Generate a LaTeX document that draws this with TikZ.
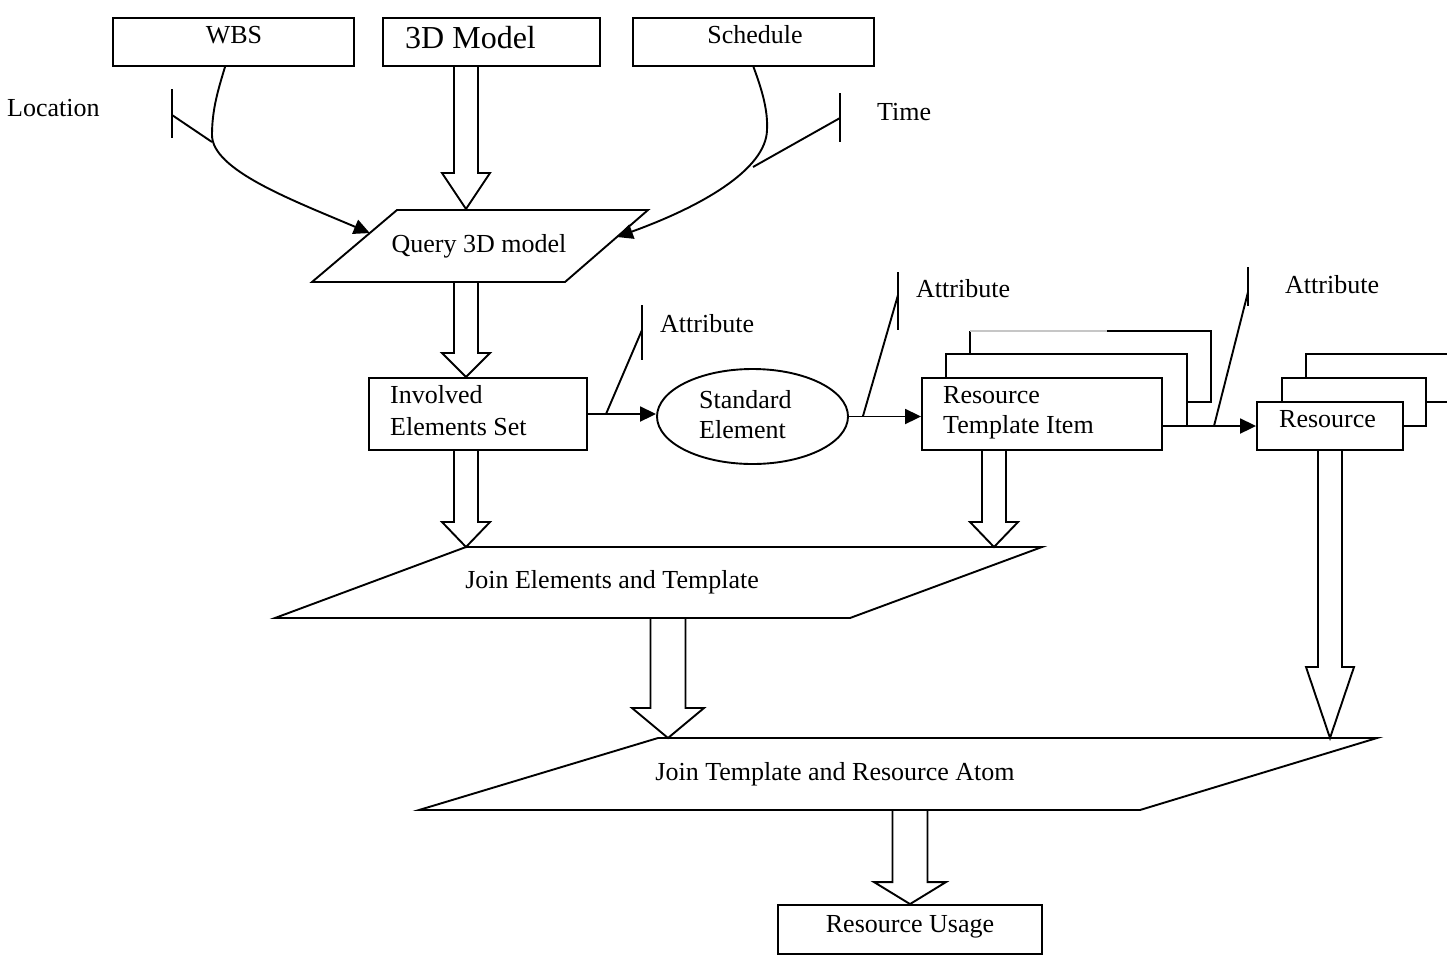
\documentclass[tikz,border=0pt]{standalone}
\usepackage{fontspec}
\setmainfont{Liberation Serif}
\usetikzlibrary{arrows.meta,shapes.geometric,calc}
\newcommand\fs{\fontsize{26}{30}\selectfont}
% #1 start, #2 tip, #3 shaft half width, #4 head half width, #5 head length
\newcommand\blockar[5]{%
  \draw[blk] let \p1=#1, \p2=#2 in
    ({\x2-#3pt},\y1) -- ({\x2-#3pt},{\y2+#5pt}) -- ({\x2-#4pt},{\y2+#5pt}) -- (\x2,\y2)
    -- ({\x2+#4pt},{\y2+#5pt}) -- ({\x2+#3pt},{\y2+#5pt}) -- ({\x2+#3pt},\y1);}
\begin{document}
\begin{tikzpicture}[x=1pt,y=-1pt,
  lw/.style={line width=1.9pt},
  box/.style={draw,lw,rectangle,inner sep=0pt},
  txt/.style={inner sep=0pt,anchor=base west,font=\fs},
  ctxt/.style={inner sep=0pt,anchor=base,font=\fs},
  thinar/.style={lw,-{Triangle[length=16pt,width=15pt]}},
  blk/.style={lw,line join=miter}]
\useasboundingbox (0,0) rectangle (1447,956);

% ---- boxes
\node[box,minimum width=241pt,minimum height=48pt] (wbs) at (233.5,42) {};
\node[box,minimum width=217pt,minimum height=48pt] (model) at (491.5,42) {};
\node[box,minimum width=241pt,minimum height=48pt] (sched) at (753.5,42) {};
\node[box,minimum width=218pt,minimum height=72pt] (inv) at (478,414) {};
\node[draw,lw,ellipse,inner sep=0pt,minimum width=191pt,minimum height=95pt] (std) at (752.5,416.5) {};
\node[box,minimum width=240pt,minimum height=72pt] (rti) at (1042,414) {};
\node[box,minimum width=146pt,minimum height=48pt] (res) at (1330,426) {};
\node[box,minimum width=264pt,minimum height=49pt] (usage) at (910,929.5) {};

% ---- stacked back boxes
\draw[lw] (946,378) -- (946,354) -- (1187,354) -- (1187,426);
\draw[lw] (970,354) -- (970,331);
\draw[lw,gray!45] (970,331) -- (1107,331);
\draw[lw] (1107,331) -- (1211,331) -- (1211,402) -- (1187,402);
\draw[lw] (1282,402) -- (1282,378) -- (1426,378) -- (1426,426) -- (1403,426);
\draw[lw] (1306,378) -- (1306,354) -- (1447,354);
\draw[lw] (1426,402) -- (1447,402);

% ---- parallelograms
\coordinate (q1) at (397,210); \coordinate (q2) at (648,210);
\coordinate (q3) at (565,282); \coordinate (q4) at (312,282);
\draw[lw] (q1) -- (q2) -- (q3) -- (q4) -- cycle;
\coordinate (j1) at (466,547); \coordinate (j2) at (1042,547);
\coordinate (j3) at (850,618); \coordinate (j4) at (275,618);
\draw[lw] (j1) -- (j2) -- (j3) -- (j4) -- cycle;
\coordinate (k1) at (658,738); \coordinate (k2) at (1377,738);
\coordinate (k3) at (1140,810); \coordinate (k4) at (419,810);
\draw[lw] (k1) -- (k2) -- (k3) -- (k4) -- cycle;

% ---- texts
\node[ctxt] (wbst) at (234,43) {WBS};
\node[txt,font=\fontsize{32}{36}\selectfont] (modelt) at (405,48) {3D Model};
\node[ctxt] (schedt) at (755,43) {Schedule};
\node[txt] (loct) at (7,116) {Location};
\node[txt] (timet) at (877,120) {Time};
\node[ctxt] (qt) at (479,252) {Query 3D model};
\node[txt] (invt1) at (390,403) {Involved};
\node[txt] (invt2) at (390,435) {Elements Set};
\node[txt] (att1) at (660,332) {Attribute};
\node[txt] (stdt1) at (699,408) {Standard};
\node[txt] (stdt2) at (699,438) {Element};
\node[txt] (att2) at (916,297) {Attribute};
\node[txt] (rtit1) at (943,403) {Resource};
\node[txt] (rtit2) at (943,433) {Template Item};
\node[txt] (att3) at (1285,293) {Attribute};
\node[txt] (rest) at (1279,427) {Resource};
\node[ctxt] (j1t) at (612,588) {Join Elements and Template};
\node[ctxt] (j2t) at (835,780) {Join Template and Resource Atom};
\node[ctxt] (ut) at (910,932) {Resource Usage};

% ---- curved inputs to query
\draw[thinar] ([xshift=-8.5pt]wbs.south) .. controls (218,90) and (212,110) .. (212,135)
   .. controls (212,170) and (292,200) .. ($(q1)!0.32!(q4)$);
\draw[thinar] (sched.south) .. controls (762,90) and (768,110) .. (767,130)
   .. controls (766,170) and (700,207) .. ($(q2)!0.375!(q3)$);

% ---- ticks
\draw[lw] (172,89) -- (172,138);
\draw[lw] (172,115) -- (212,142);
\draw[lw] (840,93) -- (840,142);
\draw[lw] (840,118) -- (753,167);
\draw[lw] (642,305) -- (642,360);
\draw[lw] (642,330) -- (606,414);
\draw[lw] (898,272) -- (898,330);
\draw[lw] (898,295) -- (863,416);
\draw[lw] (1248,267) -- (1248,306);
\draw[lw] (1248,292) -- (1214,426);

% ---- thin connectors
\draw[thinar] (inv.east) -- (inv.east -| std.west);
\draw[thinar] (std.east) -- (std.east -| rti.west);
\draw[thinar] (res.west -| rti.east) -- (res.west);

% ---- block arrows
\coordinate (t1) at (466,209);
\blockar{(t1 |- model.south)}{(t1)}{12}{24}{36}
\coordinate (t2) at (466,377);
\blockar{(t2 |- q3)}{(t2)}{12}{24}{24}
\blockar{(j1 |- inv.south)}{(j1)}{12}{24}{25}
\coordinate (t4) at (994,547);
\blockar{(t4 |- rti.south)}{(t4)}{12}{24}{25}
\coordinate (t5) at (1330,738);
\blockar{(res.south)}{(t5)}{12}{24}{71}
\coordinate (t6) at (668,738);
\blockar{(t6 |- j3)}{(t6)}{17.5}{36}{30}
\blockar{(usage.north |- k3)}{(usage.north)}{17.5}{36}{22}
\end{tikzpicture}
\end{document}
